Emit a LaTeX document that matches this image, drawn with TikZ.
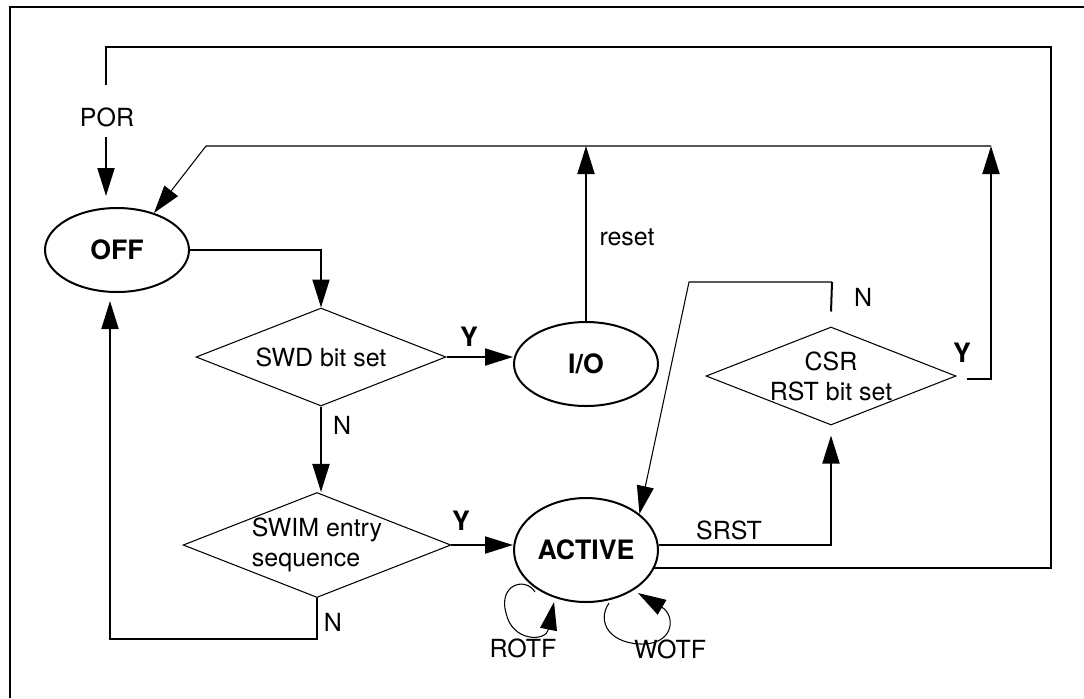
\documentclass[tikz,border=0pt]{standalone}
\usepackage{fontspec}
\setmainfont{TeX Gyre Heros}
\usetikzlibrary{arrows.meta}
\usetikzlibrary{shapes.geometric}
\usetikzlibrary{calc}

\tikzset{
    every node/.style={font=\fontsize{14.2pt}{17pt}\selectfont},
    heavy/.style={line width=1.14pt},
    light/.style={line width=0.6pt},
    tip/.style={-{Triangle[length=0.56cm,width=0.34cm]}},
    stateoval/.style={ellipse, draw, heavy, minimum width=2.88cm, minimum height=1.68cm, inner sep=0pt, font=\fontsize{15.2pt}{17pt}\selectfont\bfseries},
    decision/.style={diamond, draw, light, aspect=2.55, minimum width=5cm, minimum height=1.96cm, inner sep=0pt},
    lbl/.style={inner sep=0pt},
    ylbl/.style={inner sep=0pt, font=\fontsize{15.2pt}{17pt}\selectfont\bfseries}
}

\begin{document}
\begin{tikzpicture}[x=0.02cm, y=-0.02cm]
    \useasboundingbox (0,0) rectangle (1084,698);
    \draw[heavy] (10,698) -- (10,7) -- (1084,7);

    % states and tests
    \node[stateoval] (OFF) at (117,250) {OFF};
    \node[stateoval] (IO) at (586,364) {I/O};
    \node[stateoval, minimum height=2.08cm] (ACTIVE) at (586,550) {ACTIVE};
    \node[decision] (SWD) at (321,357) {SWD bit set};
    \node[decision, align=left] (SWIM) at (317,545) {SWIM entry\\sequence};
    \node[decision, align=center] (CSR) at (831,376) {CSR\\RST bit set};

    % labels
    \node[lbl] (por) at (107,117) {POR};
    \node[ylbl] (swdY) at (469,337) {Y};
    \node[lbl] (swdN) at (342,425) {N};
    \node[ylbl] (swimY) at (461,521) {Y};
    \node[lbl] (swimN) at (333,622) {N};
    \node[lbl] (reset) at (627,237) {reset};
    \node[lbl] (csrN) at (863,297) {N};
    \node[ylbl] (csrY) at (962,353) {Y};
    \node[lbl] (srst) at (729,530) {SRST};
    \node[lbl] (rotf) at (523,648) {ROTF};
    \node[lbl] (wotf) at (670,649) {WOTF};

    \coordinate (porTop) at (106,85);
    \coordinate (porIn) at (106,137);
    \coordinate (loopSE) at (1051,568);
    \coordinate (loopNE) at (1051,47);
    \coordinate (rightUp) at (991,146);
    \coordinate (leftThin) at (206,146);
    \coordinate (yStub) at (967,379);
    \coordinate (nTop) at (832,282);
    \coordinate (nLeft) at (689,282);
    \coordinate (offBack) at (110,639);

    \draw[heavy] (ACTIVE.-15) -- (ACTIVE.-15 -| loopSE) -- (loopNE) -- (loopNE -| porTop) -- (porTop);
    \draw[heavy, tip, shorten >=0.22cm] (porIn) -- (porIn |- OFF.north);
    \draw[light, tip] (rightUp) -- (leftThin) -- (OFF.45);
    \draw[heavy, tip] (OFF.east) -- (OFF.east -| SWD.north) -- (SWD.north);
    \draw[heavy, tip] (SWD.east) -- (SWD.east -| IO.west);
    \draw[heavy, tip] (IO.north) -- (IO.north |- rightUp);
    \draw[heavy, tip] (SWD.south) -- (SWD.south |- SWIM.north);
    \draw[heavy, tip] (SWIM.east) -- (SWIM.east -| ACTIVE.west);
    \draw[heavy, tip, shorten >=0.16cm] (SWIM.south) |- (offBack) -- (offBack |- OFF.south);
    \draw[heavy, tip, shorten >=0.2cm] (ACTIVE.4) -- (ACTIVE.4 -| CSR.south) -- (CSR.south);
    \draw[heavy, tip] (yStub) -- (yStub -| rightUp) -- (rightUp);
    \draw[heavy] ([yshift=0.3cm]CSR.north) -- (nTop);
    \draw[light, tip] (nTop) -- (nLeft) -- (ACTIVE.34);

    % self loops
    \draw[light, tip] (535,592) .. controls (525,576) and (498,585) .. (506,613) .. controls (512,642) and (546,642) .. (554,602);
    \draw[light, tip] (609,603) .. controls (596,622) and (610,645) .. (645,644) .. controls (675,642) and (675,615) .. (638,593);
\end{tikzpicture}
\end{document}
